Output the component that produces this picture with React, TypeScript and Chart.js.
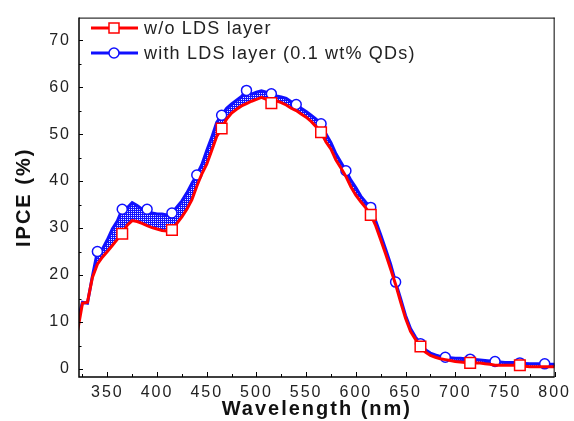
import { useEffect, useRef } from 'react';
import { Chart, registerables } from 'chart.js';

Chart.register(...registerables);

const wavelengths = [
  320, 325, 330, 335, 340, 345, 350, 355, 360, 365, 370, 375, 380, 385, 390, 395,
  400, 405, 410, 415, 420, 425, 430, 435, 440, 445, 450, 455, 460, 465, 470, 475,
  480, 485, 490, 495, 500, 505, 510, 515, 520, 525, 530, 535, 540, 545, 550, 555,
  560, 565, 570, 575, 580, 585, 590, 595, 600, 605, 610, 615, 620, 625, 630, 635,
  640, 645, 650, 655, 660, 665, 670, 675, 680, 685, 690, 695, 700, 705, 710, 715,
  720, 725, 730, 735, 740, 745, 750, 755, 760, 765, 770, 775, 780, 785, 790, 795, 800,
];

const ipceWithoutLds = [
  8, 14, 14.2, 19.5, 22.3, 23.8, 25, 26.3, 27.6, 28.8, 30.6, 31.6, 31.4, 31, 30.5, 30.1,
  29.8, 29.5, 29.4, 29.6, 31, 32.4, 34, 36, 38.9, 41.5, 43.6, 46.5, 49.5, 51.2, 53.2, 54.5,
  55.3, 56, 56.5, 57, 57.4, 57.8, 57.4, 56.6, 57.1, 56.7, 56.2, 55.5, 55, 54.3, 53.6, 52.7,
  51.6, 50.4, 48.3, 46.8, 44.5, 42.8, 41, 38.8, 37, 35.6, 34.3, 32.8, 30.5, 27.5, 24.5, 21.3,
  18, 14.3, 10.8, 8, 6.3, 4.8, 3.6, 2.9, 2.5, 2.2, 2, 1.8, 1.6, 1.5, 1.4, 1.3,
  1.3, 1.3, 1.1, 1, 0.8, 0.8, 0.8, 0.8, 0.8, 0.8, 0.6, 0.5, 0.5, 0.5, 0.5, 0.5, 0.5,
];

const ipceWithLds = [
  10.2, 14.2, 14, 19.8, 25, 25.5, 27.5, 29.8, 31.5, 34, 34.3, 35.4, 34.8, 34, 34, 33.2,
  33, 33, 32.8, 33.2, 34.5, 35.8, 37.5, 39.5, 41.3, 43.5, 46.5, 49.3, 52.5, 54, 55.5, 56.4,
  57.2, 58, 59.3, 58.5, 58.9, 59.2, 58.9, 58.6, 58.1, 57.9, 57.6, 56.9, 56.3, 55.5, 54.8, 54,
  53.2, 52.2, 50, 48.2, 45.8, 44, 42.2, 40.2, 38.6, 36.8, 35.5, 34.4, 31.5, 28.6, 25.5, 22.3,
  18.5, 15, 11.4, 8.6, 6.8, 5.4, 4.1, 3.4, 3, 2.7, 2.5, 2.4, 2.3, 2.3, 2.2, 2.1,
  2, 1.9, 1.8, 1.7, 1.6, 1.5, 1.4, 1.4, 1.4, 1.3, 1.2, 1.1, 1.1, 1.1, 1.1, 1, 1,
];

const redMarkerWavelengths = [365, 415, 465, 515, 565, 615, 665, 715, 765];
const blueMarkerWavelengths = [
  340, 365, 390, 415, 440, 465, 490, 515, 540, 565, 590, 615, 640, 665, 690, 715, 740, 765, 790,
];

const seriesLabels = ['w/o LDS layer', 'with LDS layer (0.1 wt% QDs)'];
const seriesColors = ['#ff0000', '#1010ff'];

const xMajorTicks = [350, 400, 450, 500, 550, 600, 650, 700, 750, 800];
const xMinorTicks = [325, 375, 425, 475, 525, 575, 625, 675, 725, 775];
const yMajorTicks = [0, 10, 20, 30, 40, 50, 60, 70];
const yMinorTicks = [5, 15, 25, 35, 45, 55, 65];

const FONT = "'Liberation Sans', Arial, sans-serif";

function makePattern(): CanvasPattern | string {
  const c = document.createElement('canvas');
  c.width = 2;
  c.height = 2;
  const g = c.getContext('2d');
  if (!g) return seriesColors[1];
  g.fillStyle = '#1212ff';
  g.fillRect(0, 0, 2, 2);
  g.fillStyle = '#e4e8ff';
  g.fillRect(1, 1, 1, 1);
  return g.createPattern(c, 'repeat') || seriesColors[1];
}

const spacingPlugin = {
  id: 'spacing',
  beforeDraw(chart: any) {
    (chart.ctx as any).letterSpacing = '2px';
  },
};

const framePlugin = {
  id: 'frame',
  afterDatasetsDraw(chart: any) {
    const { ctx, chartArea, scales } = chart;
    const { left, right, top, bottom } = chartArea;
    ctx.save();
    ctx.strokeStyle = '#000';
    ctx.lineWidth = 1;
    ctx.beginPath();
    ctx.moveTo(left, top + 0.5);
    ctx.lineTo(right, top + 0.5);
    ctx.moveTo(right - 0.5, top);
    ctx.lineTo(right - 0.5, bottom);
    ctx.stroke();
    ctx.lineWidth = 1.5;
    ctx.beginPath();
    ctx.moveTo(left, top);
    ctx.lineTo(left, bottom);
    ctx.lineTo(right, bottom);
    ctx.stroke();
    ctx.lineWidth = 1;
    ctx.beginPath();
    const x = scales.x;
    const y = scales.y;
    xMajorTicks.forEach((v) => {
      const p = Math.round(x.getPixelForValue(v)) + 0.5;
      ctx.moveTo(p, bottom);
      ctx.lineTo(p, bottom - 5);
    });
    xMinorTicks.forEach((v) => {
      const p = Math.round(x.getPixelForValue(v)) + 0.5;
      ctx.moveTo(p, bottom);
      ctx.lineTo(p, bottom - 3);
    });
    yMajorTicks.forEach((v) => {
      const p = Math.round(y.getPixelForValue(v)) + 0.5;
      ctx.moveTo(left, p);
      ctx.lineTo(left + 4, p);
    });
    yMinorTicks.forEach((v) => {
      const p = Math.round(y.getPixelForValue(v)) + 0.5;
      ctx.moveTo(left, p);
      ctx.lineTo(left + 2.5, p);
    });
    ctx.stroke();
    ctx.restore();
  },
};

const legendPlugin = {
  id: 'customLegend',
  afterDraw(chart: any) {
    const { ctx, chartArea } = chart;
    const x0 = chartArea.left + 12;
    const rows = [28, 53];
    ctx.save();
    (ctx as any).letterSpacing = '1.2px';
    seriesLabels.forEach((label, i) => {
      const yy = rows[i];
      const color = seriesColors[i];
      ctx.strokeStyle = color;
      ctx.lineWidth = 3;
      ctx.beginPath();
      ctx.moveTo(x0, yy);
      ctx.lineTo(x0 + 47, yy);
      ctx.stroke();
      const mx = x0 + 23;
      ctx.fillStyle = '#fff';
      ctx.lineWidth = 1.5;
      ctx.beginPath();
      if (i === 0) {
        ctx.rect(mx - 5, yy - 5, 10, 10);
      } else {
        ctx.arc(mx, yy, 5, 0, Math.PI * 2);
      }
      ctx.fill();
      ctx.stroke();
      ctx.fillStyle = '#222';
      ctx.font = `18px ${FONT}`;
      ctx.textBaseline = 'middle';
      ctx.textAlign = 'left';
      ctx.fillText(label, x0 + 53, yy + 1);
    });
    ctx.restore();
  },
};

export default function App() {
  const canvasRef = useRef<HTMLCanvasElement | null>(null);

  useEffect(() => {
    const canvas = canvasRef.current;
    if (!canvas) return;
    const pattern = makePattern();
    const redRadius = (c: any) =>
      redMarkerWavelengths.includes(wavelengths[c.dataIndex]) ? 7.5 : 0;
    const blueRadius = (c: any) =>
      blueMarkerWavelengths.includes(wavelengths[c.dataIndex]) ? 5 : 0;

    const chart = new Chart(canvas, {
      type: 'line',
      data: {
        datasets: [
          {
            label: seriesLabels[0],
            data: wavelengths.map((w, i) => ({ x: w, y: ipceWithoutLds[i] })),
            borderColor: seriesColors[0],
            borderWidth: 3,
            pointStyle: 'rect',
            pointRadius: redRadius,
            pointHoverRadius: redRadius,
            pointBorderWidth: 1.5,
            pointBorderColor: seriesColors[0],
            pointBackgroundColor: '#ffffff',
            tension: 0,
            fill: false,
          },
          {
            label: seriesLabels[1],
            data: wavelengths.map((w, i) => ({ x: w, y: ipceWithLds[i] })),
            borderColor: seriesColors[1],
            borderWidth: 3,
            pointStyle: 'circle',
            pointRadius: blueRadius,
            pointHoverRadius: blueRadius,
            pointBorderWidth: 1.5,
            pointBorderColor: seriesColors[1],
            pointBackgroundColor: '#ffffff',
            tension: 0,
            fill: { target: 0, above: pattern as any, below: pattern as any },
          },
        ],
      } as any,
      options: {
        animation: false,
        responsive: false,
        events: [],
        layout: { padding: { top: 12, right: 17, bottom: 0, left: 0 } },
        plugins: {
          legend: { display: false },
          tooltip: { enabled: false },
        },
        scales: {
          x: {
            type: 'linear',
            min: 321.5,
            max: 800,
            grid: { display: false, drawTicks: false },
            border: { display: false },
            afterBuildTicks: (s: any) => {
              s.ticks = xMajorTicks.map((v) => ({ value: v }));
            },
            afterFit: (s: any) => {
              s.height = 44;
            },
            ticks: {
              padding: 6,
              color: '#222',
              autoSkip: false,
              maxRotation: 0,
              font: { family: FONT, size: 16 },
              callback: (v: any) => String(v),
            },
            title: {
              display: true,
              text: 'Wavelength (nm)',
              color: '#111',
              font: { family: FONT, size: 20, weight: 'bold' },
              padding: { top: 0, bottom: 0 },
            },
          },
          y: {
            type: 'linear',
            min: -1.7,
            max: 74.8,
            grid: { display: false, drawTicks: false },
            border: { display: false },
            afterBuildTicks: (s: any) => {
              s.ticks = yMajorTicks.map((v) => ({ value: v }));
            },
            afterFit: (s: any) => {
              s.width = 79;
            },
            ticks: {
              padding: 8,
              color: '#222',
              autoSkip: false,
              font: { family: FONT, size: 16 },
              callback: (v: any) => String(v),
            },
            title: {
              display: true,
              text: 'IPCE (%)',
              color: '#111',
              font: { family: FONT, size: 20, weight: 'bold' },
              padding: { top: 12, bottom: 0 },
            },
          },
        },
      } as any,
      plugins: [spacingPlugin, framePlugin, legendPlugin],
    });
    return () => chart.destroy();
  }, []);

  return (
    <div style={{ position: 'absolute', left: 0, top: 0, width: 574, height: 421, background: '#fff' }}>
      <canvas ref={canvasRef} width={574} height={421} style={{ display: 'block' }} />
    </div>
  );
}
